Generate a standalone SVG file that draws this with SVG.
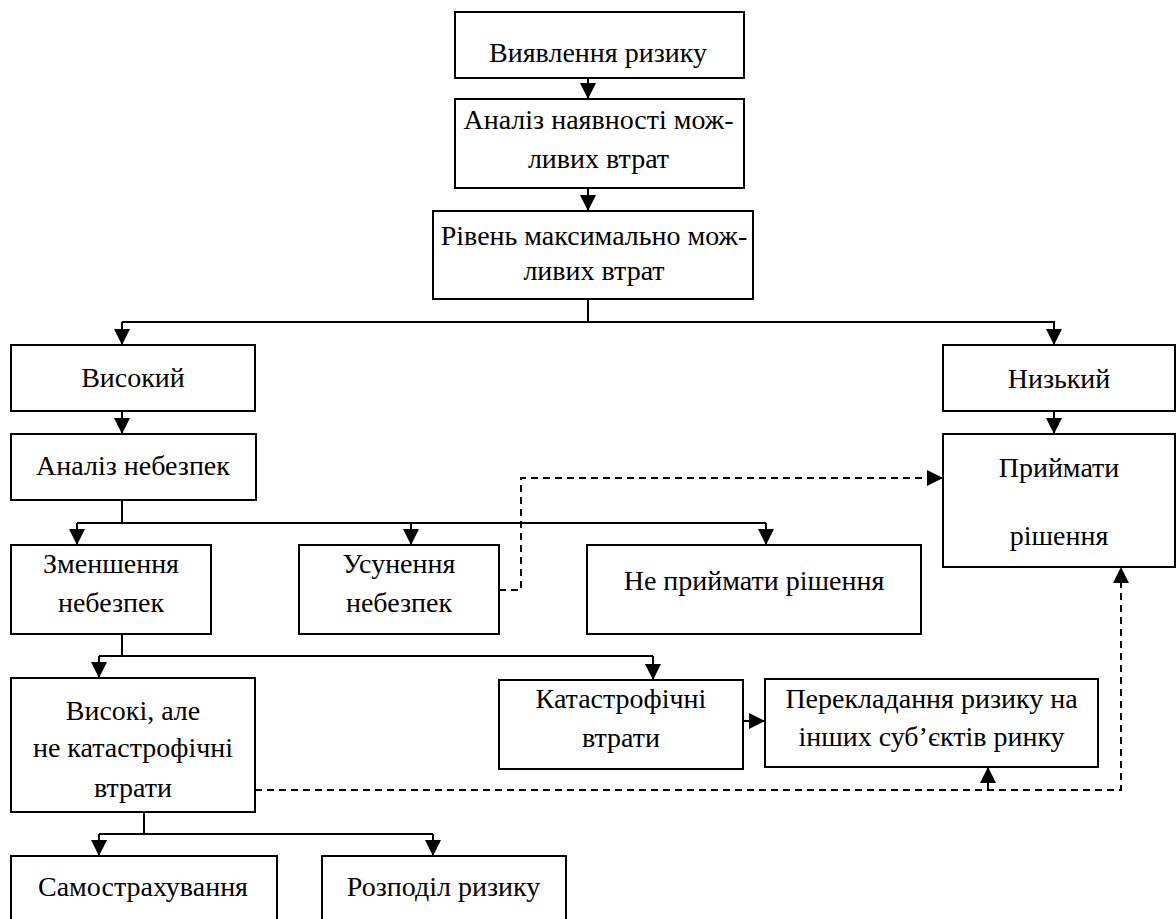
<svg xmlns="http://www.w3.org/2000/svg" width="1176" height="919" viewBox="0 0 1176 919" font-family="Liberation Serif, Times New Roman, DejaVu Serif, Noto Serif, serif">
<style>
.box{fill:#fff;stroke:#000;stroke-width:2}
.t{font-size:28px;fill:#000;text-anchor:middle}
.ln{fill:none;stroke:#000;stroke-width:2}
.dash{fill:none;stroke:#000;stroke-width:2;stroke-dasharray:7 5}
</style>
<defs>
<marker id="ah" markerUnits="userSpaceOnUse" markerWidth="18" markerHeight="18" refX="16" refY="8" orient="auto">
<path d="M0,0 L16,8 L0,16 z" fill="#000"/>
</marker>
</defs>
<rect width="1176" height="919" fill="#fff"/>
<g id="connectors">
<line class="ln" x1="588" y1="78" x2="588" y2="99" marker-end="url(#ah)"/>
<line class="ln" x1="588" y1="188" x2="588" y2="211" marker-end="url(#ah)"/>
<polyline class="ln" points="588,299 588,322"/>
<polyline class="ln" points="122,322 1054,322 1054,345" marker-end="url(#ah)"/>
<line class="ln" x1="122" y1="322" x2="122" y2="345" marker-end="url(#ah)"/>
<line class="ln" x1="122" y1="411" x2="122" y2="434" marker-end="url(#ah)"/>
<line class="ln" x1="1054" y1="411" x2="1054" y2="434" marker-end="url(#ah)"/>
<polyline class="ln" points="122,500 122,523"/>
<polyline class="ln" points="77,523 766,523"/>
<line class="ln" x1="77" y1="523" x2="77" y2="545" marker-end="url(#ah)"/>
<line class="ln" x1="411" y1="523" x2="411" y2="545" marker-end="url(#ah)"/>
<line class="ln" x1="766" y1="523" x2="766" y2="545" marker-end="url(#ah)"/>
<polyline class="dash" points="499,590 521,590 521,478 943,478" marker-end="url(#ah)"/>
<polyline class="ln" points="122,634 122,656"/>
<polyline class="ln" points="99,656 653,656"/>
<line class="ln" x1="99" y1="656" x2="99" y2="678" marker-end="url(#ah)"/>
<line class="ln" x1="653" y1="656" x2="653" y2="680" marker-end="url(#ah)"/>
<line class="ln" x1="743" y1="721" x2="765" y2="721" marker-end="url(#ah)"/>
<polyline class="dash" points="255,790 1121,790 1121,567" marker-end="url(#ah)"/>
<line class="ln" x1="988" y1="790" x2="988" y2="767" marker-end="url(#ah)"/>
<polyline class="ln" points="144,812 144,834"/>
<polyline class="ln" points="99,834 433,834"/>
<line class="ln" x1="99" y1="834" x2="99" y2="856" marker-end="url(#ah)"/>
<line class="ln" x1="433" y1="834" x2="433" y2="856" marker-end="url(#ah)"/>
</g>
<g id="n1"><rect class="box" x="455" y="12" width="289" height="66"/><text class="t" x="598" y="62">Виявлення ризику</text></g>
<g id="n2"><rect class="box" x="455" y="99" width="289" height="89"/><text class="t" x="598.5" y="129">Аналіз наявності мож-</text><text class="t" x="598.5" y="168">ливих втрат</text></g>
<g id="n3"><rect class="box" x="433" y="211" width="320" height="88"/><text class="t" x="594" y="245">Рівень максимально мож-</text><text class="t" x="594" y="280">ливих втрат</text></g>
<g id="n4"><rect class="box" x="11" y="345" width="244" height="66"/><text class="t" x="133" y="387">Високий</text></g>
<g id="n5"><rect class="box" x="943" y="345" width="232" height="66"/><text class="t" x="1059" y="388">Низький</text></g>
<g id="n6"><rect class="box" x="11" y="434" width="245" height="66"/><text class="t" x="133" y="475">Аналіз небезпек</text></g>
<g id="n7"><rect class="box" x="943" y="434" width="232" height="133"/><text class="t" x="1059" y="477">Приймати</text><text class="t" x="1059" y="545">рішення</text></g>
<g id="n8"><rect class="box" x="11" y="545" width="200" height="89"/><text class="t" x="111" y="573">Зменшення</text><text class="t" x="111" y="612">небезпек</text></g>
<g id="n9"><rect class="box" x="299" y="545" width="200" height="89"/><text class="t" x="399" y="573">Усунення</text><text class="t" x="399" y="612">небезпек</text></g>
<g id="n10"><rect class="box" x="587" y="545" width="334" height="89"/><text class="t" x="754" y="590">Не приймати рішення</text></g>
<g id="n11"><rect class="box" x="11" y="678" width="244" height="134"/><text class="t" x="133" y="720">Високі, але</text><text class="t" x="133" y="757">не катастрофічні</text><text class="t" x="133" y="797">втрати</text></g>
<g id="n12"><rect class="box" x="499" y="680" width="244" height="89"/><text class="t" x="621" y="708">Катастрофічні</text><text class="t" x="621" y="747">втрати</text></g>
<g id="n13"><rect class="box" x="765" y="679" width="333" height="88"/><text class="t" x="931.5" y="708">Перекладання ризику на</text><text class="t" x="931.5" y="746">інших суб’єктів ринку</text></g>
<g id="n14"><rect class="box" x="11" y="856" width="266" height="80"/><text class="t" x="143" y="896">Самострахування</text></g>
<g id="n15"><rect class="box" x="322" y="856" width="244" height="80"/><text class="t" x="443.5" y="896">Розподіл ризику</text></g>
</svg>
